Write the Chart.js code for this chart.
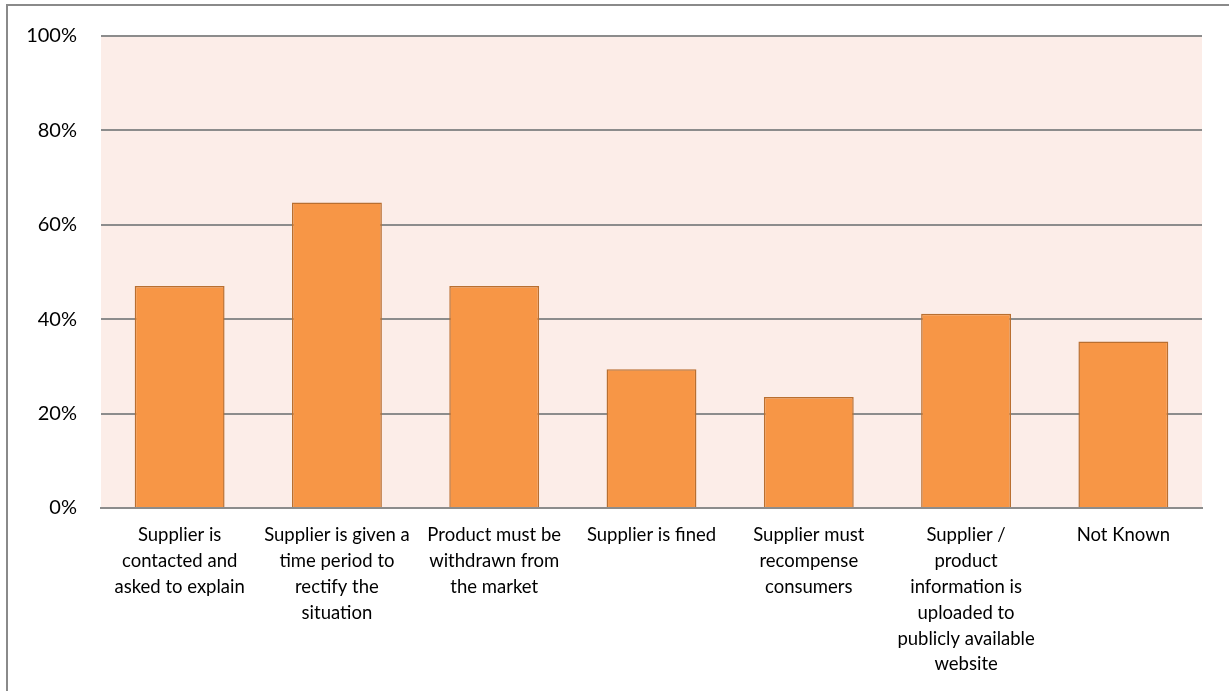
<!DOCTYPE html>
<html lang="en">
<head>
    <meta charset="UTF-8">
    <title>Supplier measures</title>
    <script src="https://cdn.jsdelivr.net/npm/chart.js"></script>
    <style>
        html, body {
            margin: 0;
            padding: 0;
            background: #fff;
            overflow: hidden;
        }
        .frame {
            position: absolute;
            left: 6px;
            top: 4px;
            width: 1400px;
            height: 900px;
            border: 2px solid #8a8a8a;
        }
        .wrap {
            position: absolute;
            left: 0;
            top: 0;
            width: 1229px;
            height: 691px;
        }
    </style>
</head>
<body>
    <div class="frame"></div>
    <div class="wrap"><canvas id="barChart" width="1229" height="691"></canvas></div>

    <script>
        const categories = [
            ['Supplier is', 'contacted and', 'asked to explain'],
            ['Supplier is given a', 'time period to', 'rectify the', 'situation'],
            ['Product must be', 'withdrawn from', 'the market'],
            ['Supplier is fined'],
            ['Supplier must', 'recompense', 'consumers'],
            ['Supplier /', 'product', 'information is', 'uploaded to', 'publicly available', 'website'],
            ['Not Known']
        ];
        const shares = [47.06, 64.71, 47.06, 29.41, 23.53, 41.18, 35.29];
        const yTicks = [0, 20, 40, 60, 80, 100];

        // pinkish plot background behind the bars
        const plotBg = {
            id: 'plotBg',
            beforeDraw(chart) {
                const a = chart.chartArea;
                const c = chart.ctx;
                c.save();
                c.fillStyle = '#fcede8';
                c.fillRect(a.left, a.top, a.right - a.left, a.bottom - a.top);
                c.restore();
            }
        };

        const font = "'Lato', 'Open Sans', sans-serif";

        const ctx = document.getElementById('barChart').getContext('2d');
        new Chart(ctx, {
            type: 'bar',
            data: {
                labels: categories,
                datasets: [{
                    data: shares,
                    backgroundColor: '#f79646',
                    borderColor: '#b96f30',
                    borderWidth: 1.5,
                    barPercentage: 1 / 1.75,
                    categoryPercentage: 1
                }]
            },
            options: {
                responsive: false,
                animation: false,
                layout: { padding: { top: 33, right: 27, left: 0, bottom: 0 } },
                plugins: {
                    legend: { display: false },
                    tooltip: { enabled: false }
                },
                scales: {
                    x: {
                        grid: { display: false, drawTicks: false },
                        border: { display: true, color: '#8c8c8c', width: 2 },
                        ticks: {
                            color: '#000',
                            maxRotation: 0,
                            autoSkip: false,
                            padding: 14,
                            font: { family: font, size: 18.5, lineHeight: 1.4 }
                        },
                        afterFit(s) { s.height = 691 - 508; }
                    },
                    y: {
                        min: 0,
                        max: 100,
                        afterBuildTicks(s) { s.ticks = yTicks.map(v => ({ value: v })); },
                        grid: { color: '#8c8c8c', lineWidth: 2, drawTicks: false },
                        border: { display: false },
                        ticks: {
                            color: '#000',
                            padding: 24,
                            font: { family: font, size: 20 },
                            callback: v => v + '%'
                        },
                        afterFit(s) { s.width = 101; }
                    }
                }
            },
            plugins: [plotBg]
        });
    </script>
</body>
</html>
